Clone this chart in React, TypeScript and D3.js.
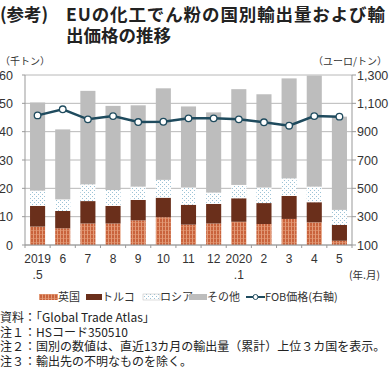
import React from "react";
import * as d3 from "d3";

const months = ["2019\n.5", "6", "7", "8", "9", "10", "11", "12", "2020\n.1", "2", "3", "4", "5"];
const uk = [6.5, 5.9, 7.6, 7.6, 8.7, 9.8, 7.2, 7.6, 8.2, 7.4, 9.2, 8.0, 1.5];
const turkey = [7.3, 6.1, 7.9, 6.2, 7.2, 6.9, 7.0, 6.9, 8.3, 7.4, 8.1, 7.1, 5.6];
const russia = [5.4, 4.1, 5.9, 5.6, 4.7, 6.3, 6.1, 4.0, 4.7, 5.5, 6.2, 5.5, 5.3];
const others = [31.1, 24.7, 33.0, 29.7, 28.7, 32.3, 28.6, 28.3, 33.8, 32.9, 35.3, 39.2, 32.9];
const fob = [1015, 1058, 987, 1010, 968, 970, 994, 994, 987, 966, 942, 1010, 1006];
const leftTicks = [0, 10, 20, 30, 40, 50, 60];
const rightTicks = [100, 300, 500, 700, 900, 1100, 1300];
const seriesNames = ["英国", "トルコ", "ロシア", "その他"];

const FONT = "'Liberation Sans', 'Noto Sans CJK JP', sans-serif";
const JFONT = "'Noto Sans CJK JP', 'Liberation Sans', sans-serif";

export default function App() {
  const W = 389, H = 368;
  const x0 = 25, x1 = 352, yTop = 75, yBot = 245;
  const x = d3.scaleBand<number>().domain(d3.range(months.length)).range([x0, x1]).paddingInner(0.4).paddingOuter(0.2);
  const yL = d3.scaleLinear().domain([0, 60]).range([yBot, yTop]);
  const yR = d3.scaleLinear().domain([100, 1300]).range([yBot, yTop]);
  const stackData = months.map((_, i) => ({ i, a: uk[i], b: turkey[i], c: russia[i], d: others[i] }));
  const stack = d3.stack<any>().keys(["a", "b", "c", "d"])(stackData);
  const fills = ["url(#ukPat)", "#6a2f1b", "url(#ruPat)", "#bdbdbd"];
  const line = d3.line<number>().x((_, i) => x(i)! + x.bandwidth() / 2).y((d) => yR(d));
  const cx = (i: number) => x(i)! + x.bandwidth() / 2;
  const step = x.step();

  const legend = [
    { sx: 39, sw: 19, tx: 58, label: "英国", fill: "url(#ukPat)" },
    { sx: 86, sw: 16, tx: 102, label: "トルコ", fill: "#6a2f1b" },
    { sx: 143, sw: 17, tx: 160, label: "ロシア", fill: "url(#ruPat)" },
    { sx: 189, sw: 18, tx: 207, label: "その他", fill: "#bdbdbd" },
  ];

  return (
    <svg width={W} height={H} style={{ position: "absolute", left: 0, top: 0 }}>
      <defs>
        <pattern id="ukPat" width="3" height="4" patternUnits="userSpaceOnUse">
          <rect width="3" height="4" fill="#c9633c" />
          <rect x="0" width="1" height="4" fill="#e39a78" />
          <rect x="1" y="2" width="2" height="1" fill="#d98660" />
        </pattern>
        <pattern id="ruPat" width="4" height="4" patternUnits="userSpaceOnUse">
          <rect width="4" height="4" fill="#ffffff" />
          <rect x="0" y="0" width="1" height="1" fill="#9cc3d6" />
          <rect x="2" y="2" width="1" height="1" fill="#9cc3d6" />
        </pattern>
      </defs>
      <rect width={W} height={H} fill="#fff" />
      {/* Title */}
      <text x={0} y={21} fontFamily={JFONT} fontSize={17.5} fontWeight={700} fill="#222">(参考)</text>
      <text x={66} y={21} fontFamily={JFONT} fontSize={17.5} fontWeight={700} fill="#222" textLength={319} lengthAdjust="spacing">EUの化工でん粉の国別輸出量および輸</text>
      <text x={66} y={42} fontFamily={JFONT} fontSize={17.5} fontWeight={700} fill="#222">出価格の推移</text>
      {/* unit labels */}
      <text x={0} y={65} fontFamily={JFONT} fontSize={10} fill="#333">（千トン）</text>
      <text x={387} y={65} textAnchor="end" fontFamily={JFONT} fontSize={10} fill="#333">（ユーロ/トン）</text>
      {/* gridlines */}
      {leftTicks.map((t) => (
        <line key={t} x1={x0} x2={x1} y1={yL(t)} y2={yL(t)} stroke="#b8b8b8" strokeWidth={1} />
      ))}
      {/* bars */}
      {stack.map((s, k) => (
        <g key={k}>
          {s.map((d, i) => (
            <rect key={i} x={x(i)} width={x.bandwidth()} y={yL(d[1])} height={yL(d[0]) - yL(d[1])} fill={fills[k]} />
          ))}
        </g>
      ))}
      {/* axes */}
      <line x1={x0} x2={x0} y1={yTop} y2={yBot} stroke="#999" />
      <line x1={x1} x2={x1} y1={yTop} y2={yBot} stroke="#999" />
      <line x1={x0} x2={x1} y1={yBot} y2={yBot} stroke="#999" />
      {leftTicks.map((t) => (
        <g key={t}>
          <line x1={x0 - 3} x2={x0} y1={yL(t)} y2={yL(t)} stroke="#999" />
          <text x={13} y={yL(t) + 4.5} textAnchor="end" fontFamily={FONT} fontSize={12.5} fill="#333">{t}</text>
        </g>
      ))}
      {rightTicks.map((t) => (
        <g key={t}>
          <line x1={x1} x2={x1 + 4} y1={yR(t)} y2={yR(t)} stroke="#999" />
          <text x={357} y={yR(t) + 4.5} fontFamily={FONT} fontSize={12.5} fill="#333">{d3.format(",")(t)}</text>
        </g>
      ))}
      {d3.range(months.length + 1).map((i) => (
        <line key={i} x1={x0 + i * step} x2={x0 + i * step} y1={yBot} y2={yBot + 3} stroke="#999" />
      ))}
      {months.map((m, i) => (
        <text key={i} x={cx(i)} y={263} textAnchor="middle" fontFamily={FONT} fontSize={12} fill="#333">
          {m.split("\n").map((p, j) => (
            <tspan key={j} x={cx(i)} dy={j === 0 ? 0 : 16}>{p}</tspan>
          ))}
        </text>
      ))}
      <text x={349} y={279} fontFamily={JFONT} fontSize={10.5} fill="#333">(年.月)</text>
      {/* line */}
      <path d={line(fob) || ""} fill="none" stroke="#1f4b5e" strokeWidth={2.5} />
      {fob.map((v, i) => (
        <circle key={i} cx={cx(i)} cy={yR(v)} r={3.3} fill="#fff" stroke="#1f4b5e" strokeWidth={1.3} />
      ))}
      {/* legend */}
      {legend.map((l, i) => (
        <g key={i}>
          <rect x={l.sx} y={294} width={l.sw} height={6} fill={l.fill} stroke={i === 2 ? "#bbb" : "none"} strokeWidth={0.5} />
          <text x={l.tx} y={301} fontFamily={JFONT} fontSize={11} fill="#333">{seriesNames[i]}</text>
        </g>
      ))}
      <line x1={246} x2={265} y1={297} y2={297} stroke="#1f4b5e" strokeWidth={2} />
      <circle cx={255.5} cy={297} r={2.5} fill="#fff" stroke="#1f4b5e" strokeWidth={1} />
      <text x={265} y={301} fontFamily={JFONT} fontSize={11} fill="#333">FOB価格(右軸)</text>
      {/* notes */}
      <text x={0} y={322} fontFamily={JFONT} fontSize={12} fill="#222">資料：「Global Trade Atlas」</text>
      <text x={0} y={336.5} fontFamily={JFONT} fontSize={12} fill="#222">注１：HSコード350510</text>
      <text x={0} y={351} fontFamily={JFONT} fontSize={12} fill="#222">注２：国別の数値は、直近13カ月の輸出量（累計）上位３カ国を表示。</text>
      <text x={0} y={365.5} fontFamily={JFONT} fontSize={12} fill="#222">注３：輸出先の不明なものを除く。</text>
    </svg>
  );
}
